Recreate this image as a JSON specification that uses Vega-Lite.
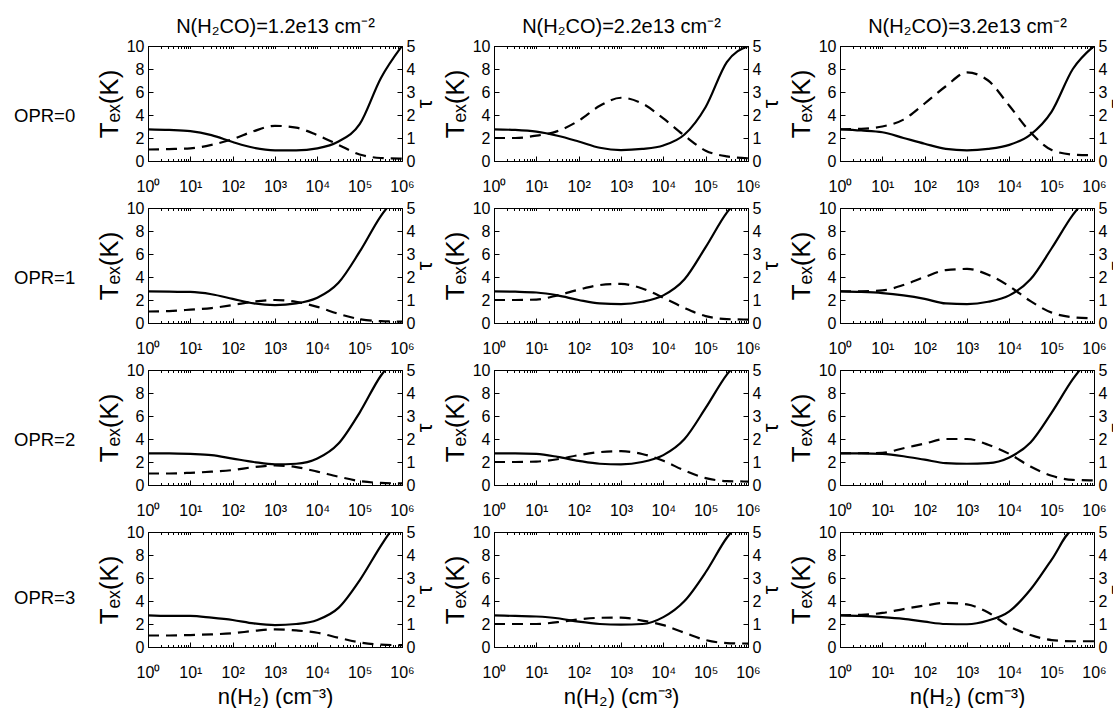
{
"$schema": "https://vega.github.io/schema/vega-lite/v6.json",
"background": "white",
"padding": {"left": 13, "top": 16, "right": 0, "bottom": 0},
"config": {
 "font": "Liberation Sans",
 "view": {"stroke": "black", "strokeWidth": 1},
 "axis": {"grid": false, "domainColor": "black", "tickColor": "black", "labelColor": "black", "titleColor": "black", "labelFontSize": 16, "titleFontSize": 22, "titleFontWeight": "normal", "labelFont": "Liberation Sans", "titleFont": "Liberation Sans", "labelOverlap": false, "labelFlush": false},
 "axisLeft": {"titleFontSize": 26},
 "axisRight": {"titleFontSize": 22, "titleBaseline": "top", "titlePadding": 0},
 "axisTop": {"titleFontSize": 20, "titlePadding": 9},
 "title": {"fontSize": 18.5, "fontWeight": "normal", "color": "black", "font": "Liberation Sans"},
 "line": {"color": "black", "strokeWidth": 2.2, "interpolate": "monotone"}
},
"data": {"values": [
{"o":0,"c":1.2,"n":1,"tex":2.75,"tau":0.5},{"o":0,"c":1.2,"n":3.162,"tex":2.7,"tau":0.52},{"o":0,"c":1.2,"n":10,"tex":2.6,"tau":0.55},{"o":0,"c":1.2,"n":31.62,"tex":2.25,"tau":0.7},{"o":0,"c":1.2,"n":100,"tex":1.65,"tau":0.95},{"o":0,"c":1.2,"n":316.2,"tex":1.15,"tau":1.3},{"o":0,"c":1.2,"n":1000,"tex":0.93,"tau":1.53},{"o":0,"c":1.2,"n":3162,"tex":0.92,"tau":1.45},{"o":0,"c":1.2,"n":10000,"tex":1.1,"tau":1.12},{"o":0,"c":1.2,"n":31623,"tex":1.7,"tau":0.7},{"o":0,"c":1.2,"n":100000,"tex":3.2,"tau":0.28},{"o":0,"c":1.2,"n":316228,"tex":7.2,"tau":0.13},{"o":0,"c":1.2,"n":1000000,"tex":10,"tau":0.1},
{"o":0,"c":2.2,"n":1,"tex":2.75,"tau":1.0},{"o":0,"c":2.2,"n":3.162,"tex":2.7,"tau":1.0},{"o":0,"c":2.2,"n":10,"tex":2.55,"tau":1.1},{"o":0,"c":2.2,"n":31.62,"tex":2.2,"tau":1.3},{"o":0,"c":2.2,"n":100,"tex":1.7,"tau":1.75},{"o":0,"c":2.2,"n":316.2,"tex":1.15,"tau":2.4},{"o":0,"c":2.2,"n":1000,"tex":0.95,"tau":2.75},{"o":0,"c":2.2,"n":3162,"tex":1.05,"tau":2.5},{"o":0,"c":2.2,"n":10000,"tex":1.35,"tau":1.85},{"o":0,"c":2.2,"n":31623,"tex":2.3,"tau":1.1},{"o":0,"c":2.2,"n":100000,"tex":4.7,"tau":0.45},{"o":0,"c":2.2,"n":316228,"tex":8.6,"tau":0.2},{"o":0,"c":2.2,"n":1000000,"tex":10,"tau":0.12},
{"o":0,"c":3.2,"n":1,"tex":2.75,"tau":1.38},{"o":0,"c":3.2,"n":3.162,"tex":2.65,"tau":1.4},{"o":0,"c":3.2,"n":10,"tex":2.5,"tau":1.5},{"o":0,"c":3.2,"n":31.62,"tex":2.0,"tau":1.8},{"o":0,"c":3.2,"n":100,"tex":1.5,"tau":2.5},{"o":0,"c":3.2,"n":316.2,"tex":1.05,"tau":3.25},{"o":0,"c":3.2,"n":1000,"tex":0.93,"tau":3.85},{"o":0,"c":3.2,"n":3162,"tex":1.05,"tau":3.5},{"o":0,"c":3.2,"n":10000,"tex":1.4,"tau":2.4},{"o":0,"c":3.2,"n":31623,"tex":2.3,"tau":1.25},{"o":0,"c":3.2,"n":100000,"tex":4.3,"tau":0.48},{"o":0,"c":3.2,"n":316228,"tex":8.0,"tau":0.28},{"o":0,"c":3.2,"n":1000000,"tex":10,"tau":0.25},
{"o":1,"c":1.2,"n":1,"tex":2.75,"tau":0.5},{"o":1,"c":1.2,"n":3.162,"tex":2.72,"tau":0.52},{"o":1,"c":1.2,"n":10,"tex":2.7,"tau":0.58},{"o":1,"c":1.2,"n":31.62,"tex":2.5,"tau":0.65},{"o":1,"c":1.2,"n":100,"tex":2.1,"tau":0.78},{"o":1,"c":1.2,"n":316.2,"tex":1.7,"tau":0.93},{"o":1,"c":1.2,"n":1000,"tex":1.55,"tau":1.0},{"o":1,"c":1.2,"n":3162,"tex":1.7,"tau":0.92},{"o":1,"c":1.2,"n":10000,"tex":2.2,"tau":0.7},{"o":1,"c":1.2,"n":31623,"tex":3.5,"tau":0.4},{"o":1,"c":1.2,"n":100000,"tex":6.2,"tau":0.17},{"o":1,"c":1.2,"n":316228,"tex":9.3,"tau":0.08},{"o":1,"c":1.2,"n":1000000,"tex":11.5,"tau":0.06},
{"o":1,"c":2.2,"n":1,"tex":2.75,"tau":1.0},{"o":1,"c":2.2,"n":3.162,"tex":2.72,"tau":1.0},{"o":1,"c":2.2,"n":10,"tex":2.65,"tau":1.02},{"o":1,"c":2.2,"n":31.62,"tex":2.4,"tau":1.2},{"o":1,"c":2.2,"n":100,"tex":2.0,"tau":1.45},{"o":1,"c":2.2,"n":316.2,"tex":1.7,"tau":1.65},{"o":1,"c":2.2,"n":1000,"tex":1.65,"tau":1.7},{"o":1,"c":2.2,"n":3162,"tex":1.85,"tau":1.5},{"o":1,"c":2.2,"n":10000,"tex":2.4,"tau":1.1},{"o":1,"c":2.2,"n":31623,"tex":3.8,"tau":0.65},{"o":1,"c":2.2,"n":100000,"tex":6.6,"tau":0.3},{"o":1,"c":2.2,"n":316228,"tex":9.6,"tau":0.17},{"o":1,"c":2.2,"n":1000000,"tex":11.5,"tau":0.15},
{"o":1,"c":3.2,"n":1,"tex":2.75,"tau":1.38},{"o":1,"c":3.2,"n":3.162,"tex":2.7,"tau":1.38},{"o":1,"c":3.2,"n":10,"tex":2.6,"tau":1.42},{"o":1,"c":3.2,"n":31.62,"tex":2.4,"tau":1.65},{"o":1,"c":3.2,"n":100,"tex":2.1,"tau":2.0},{"o":1,"c":3.2,"n":316.2,"tex":1.7,"tau":2.3},{"o":1,"c":3.2,"n":1000,"tex":1.65,"tau":2.35},{"o":1,"c":3.2,"n":3162,"tex":1.85,"tau":2.1},{"o":1,"c":3.2,"n":10000,"tex":2.4,"tau":1.6},{"o":1,"c":3.2,"n":31623,"tex":3.8,"tau":0.95},{"o":1,"c":3.2,"n":100000,"tex":6.5,"tau":0.45},{"o":1,"c":3.2,"n":316228,"tex":9.4,"tau":0.25},{"o":1,"c":3.2,"n":1000000,"tex":11.5,"tau":0.2},
{"o":2,"c":1.2,"n":1,"tex":2.75,"tau":0.5},{"o":2,"c":1.2,"n":3.162,"tex":2.75,"tau":0.5},{"o":2,"c":1.2,"n":10,"tex":2.7,"tau":0.53},{"o":2,"c":1.2,"n":31.62,"tex":2.6,"tau":0.58},{"o":2,"c":1.2,"n":100,"tex":2.3,"tau":0.65},{"o":2,"c":1.2,"n":316.2,"tex":2.0,"tau":0.78},{"o":2,"c":1.2,"n":1000,"tex":1.8,"tau":0.85},{"o":2,"c":1.2,"n":3162,"tex":1.85,"tau":0.78},{"o":2,"c":1.2,"n":10000,"tex":2.3,"tau":0.58},{"o":2,"c":1.2,"n":31623,"tex":3.6,"tau":0.36},{"o":2,"c":1.2,"n":100000,"tex":6.3,"tau":0.17},{"o":2,"c":1.2,"n":316228,"tex":9.5,"tau":0.09},{"o":2,"c":1.2,"n":1000000,"tex":11.5,"tau":0.07},
{"o":2,"c":2.2,"n":1,"tex":2.75,"tau":1.0},{"o":2,"c":2.2,"n":3.162,"tex":2.75,"tau":1.0},{"o":2,"c":2.2,"n":10,"tex":2.7,"tau":1.02},{"o":2,"c":2.2,"n":31.62,"tex":2.45,"tau":1.12},{"o":2,"c":2.2,"n":100,"tex":2.1,"tau":1.3},{"o":2,"c":2.2,"n":316.2,"tex":1.85,"tau":1.43},{"o":2,"c":2.2,"n":1000,"tex":1.8,"tau":1.47},{"o":2,"c":2.2,"n":3162,"tex":2.0,"tau":1.35},{"o":2,"c":2.2,"n":10000,"tex":2.6,"tau":1.05},{"o":2,"c":2.2,"n":31623,"tex":4.0,"tau":0.63},{"o":2,"c":2.2,"n":100000,"tex":6.7,"tau":0.3},{"o":2,"c":2.2,"n":316228,"tex":9.6,"tau":0.17},{"o":2,"c":2.2,"n":1000000,"tex":11.5,"tau":0.15},
{"o":2,"c":3.2,"n":1,"tex":2.75,"tau":1.38},{"o":2,"c":3.2,"n":3.162,"tex":2.75,"tau":1.38},{"o":2,"c":3.2,"n":10,"tex":2.7,"tau":1.4},{"o":2,"c":3.2,"n":31.62,"tex":2.5,"tau":1.6},{"o":2,"c":3.2,"n":100,"tex":2.2,"tau":1.8},{"o":2,"c":3.2,"n":316.2,"tex":1.9,"tau":2.0},{"o":2,"c":3.2,"n":1000,"tex":1.85,"tau":2.0},{"o":2,"c":3.2,"n":3162,"tex":1.9,"tau":1.75},{"o":2,"c":3.2,"n":10000,"tex":2.4,"tau":1.35},{"o":2,"c":3.2,"n":31623,"tex":3.7,"tau":0.8},{"o":2,"c":3.2,"n":100000,"tex":6.3,"tau":0.4},{"o":2,"c":3.2,"n":316228,"tex":9.2,"tau":0.22},{"o":2,"c":3.2,"n":1000000,"tex":11.5,"tau":0.2},
{"o":3,"c":1.2,"n":1,"tex":2.75,"tau":0.5},{"o":3,"c":1.2,"n":3.162,"tex":2.7,"tau":0.5},{"o":3,"c":1.2,"n":10,"tex":2.7,"tau":0.52},{"o":3,"c":1.2,"n":31.62,"tex":2.55,"tau":0.55},{"o":3,"c":1.2,"n":100,"tex":2.35,"tau":0.6},{"o":3,"c":1.2,"n":316.2,"tex":2.05,"tau":0.7},{"o":3,"c":1.2,"n":1000,"tex":1.9,"tau":0.77},{"o":3,"c":1.2,"n":3162,"tex":2.0,"tau":0.72},{"o":3,"c":1.2,"n":10000,"tex":2.35,"tau":0.62},{"o":3,"c":1.2,"n":31623,"tex":3.4,"tau":0.4},{"o":3,"c":1.2,"n":100000,"tex":5.8,"tau":0.2},{"o":3,"c":1.2,"n":316228,"tex":8.8,"tau":0.1},{"o":3,"c":1.2,"n":1000000,"tex":11.5,"tau":0.08},
{"o":3,"c":2.2,"n":1,"tex":2.75,"tau":1.0},{"o":3,"c":2.2,"n":3.162,"tex":2.7,"tau":1.0},{"o":3,"c":2.2,"n":10,"tex":2.65,"tau":1.0},{"o":3,"c":2.2,"n":31.62,"tex":2.5,"tau":1.08},{"o":3,"c":2.2,"n":100,"tex":2.2,"tau":1.2},{"o":3,"c":2.2,"n":316.2,"tex":2.0,"tau":1.27},{"o":3,"c":2.2,"n":1000,"tex":1.95,"tau":1.28},{"o":3,"c":2.2,"n":3162,"tex":2.0,"tau":1.15},{"o":3,"c":2.2,"n":10000,"tex":2.6,"tau":0.95},{"o":3,"c":2.2,"n":31623,"tex":4.0,"tau":0.62},{"o":3,"c":2.2,"n":100000,"tex":6.5,"tau":0.3},{"o":3,"c":2.2,"n":316228,"tex":9.5,"tau":0.17},{"o":3,"c":2.2,"n":1000000,"tex":11.5,"tau":0.15},
{"o":3,"c":3.2,"n":1,"tex":2.75,"tau":1.38},{"o":3,"c":3.2,"n":3.162,"tex":2.7,"tau":1.4},{"o":3,"c":3.2,"n":10,"tex":2.6,"tau":1.48},{"o":3,"c":3.2,"n":31.62,"tex":2.45,"tau":1.65},{"o":3,"c":3.2,"n":100,"tex":2.2,"tau":1.8},{"o":3,"c":3.2,"n":316.2,"tex":2.0,"tau":1.92},{"o":3,"c":3.2,"n":1000,"tex":1.98,"tau":1.85},{"o":3,"c":3.2,"n":3162,"tex":2.3,"tau":1.5},{"o":3,"c":3.2,"n":10000,"tex":3.1,"tau":0.9},{"o":3,"c":3.2,"n":31623,"tex":5.0,"tau":0.52},{"o":3,"c":3.2,"n":100000,"tex":7.6,"tau":0.3},{"o":3,"c":3.2,"n":316228,"tex":10.2,"tau":0.25},{"o":3,"c":3.2,"n":1000000,"tex":10.5,"tau":0.25}
]},
"columns": 3,
"bounds": "flush",
"spacing": {"row": 47, "column": 92},
"concat": [
 {"width": 254, "height": 115, "title": {"text": "OPR=0", "orient": "left", "angle": 0, "align": "left", "baseline": "middle", "anchor": "middle", "frame": "group", "dy": 12, "offset": 21}, "transform": [{"filter": "datum.o == 0 && datum.c == 1.2"}],
  "layer": [
   {"mark": {"type": "line", "clip": true}, "encoding": {
     "x": {"field": "n", "type": "quantitative", "scale": {"type": "log", "domain": [1, 1000000], "nice": false}, "axis": {"values": [1,2,3,4,5,6,7,8,9,10,20,30,40,50,60,70,80,90,100,200,300,400,500,600,700,800,900,1000,2000,3000,4000,5000,6000,7000,8000,9000,10000,20000,30000,40000,50000,60000,70000,80000,90000,100000,200000,300000,400000,500000,600000,700000,800000,900000,1000000], "labelExpr": "abs(log(datum.value)/LN10 - round(log(datum.value)/LN10)) < 0.001 ? '10' + ['⁰','¹','²','³','⁴','⁵','⁶'][round(log(datum.value)/LN10)] : ''", "tickSize": {"condition": {"test": "abs(log(datum.value)/LN10 - round(log(datum.value)/LN10)) < 0.001", "value": -5}, "value": -2.5}, "labelPadding": 22, "title": null}},
     "y": {"field": "tex", "type": "quantitative", "scale": {"domain": [0, 10], "nice": false}, "axis": {"values": [0,2,4,6,8,10], "tickSize": -5, "labelPadding": 9, "title": "Tₑₓ(K)"}}}},
   {"mark": {"type": "line", "strokeDash": [11, 7], "clip": true}, "encoding": {
     "x": {"field": "n", "type": "quantitative", "axis": {"orient": "top", "values": [1,2,3,4,5,6,7,8,9,10,20,30,40,50,60,70,80,90,100,200,300,400,500,600,700,800,900,1000,2000,3000,4000,5000,6000,7000,8000,9000,10000,20000,30000,40000,50000,60000,70000,80000,90000,100000,200000,300000,400000,500000,600000,700000,800000,900000,1000000], "labels": false, "tickSize": -2.5, "title": "N(H₂CO)=1.2e13 cm⁻²"}},
     "y": {"field": "tau", "type": "quantitative", "scale": {"domain": [0, 5], "nice": false}, "axis": {"orient": "right", "values": [0,1,2,3,4,5], "tickSize": -5, "labelPadding": 9, "title": "τ", "titleAngle": 270}}}}
  ],
  "resolve": {"scale": {"y": "independent"}, "axis": {"x": "independent"}}},
 {"width": 254, "height": 115, "transform": [{"filter": "datum.o == 0 && datum.c == 2.2"}],
  "layer": [
   {"mark": {"type": "line", "clip": true}, "encoding": {
     "x": {"field": "n", "type": "quantitative", "scale": {"type": "log", "domain": [1, 1000000], "nice": false}, "axis": {"values": [1,2,3,4,5,6,7,8,9,10,20,30,40,50,60,70,80,90,100,200,300,400,500,600,700,800,900,1000,2000,3000,4000,5000,6000,7000,8000,9000,10000,20000,30000,40000,50000,60000,70000,80000,90000,100000,200000,300000,400000,500000,600000,700000,800000,900000,1000000], "labelExpr": "abs(log(datum.value)/LN10 - round(log(datum.value)/LN10)) < 0.001 ? '10' + ['⁰','¹','²','³','⁴','⁵','⁶'][round(log(datum.value)/LN10)] : ''", "tickSize": {"condition": {"test": "abs(log(datum.value)/LN10 - round(log(datum.value)/LN10)) < 0.001", "value": -5}, "value": -2.5}, "labelPadding": 22, "title": null}},
     "y": {"field": "tex", "type": "quantitative", "scale": {"domain": [0, 10], "nice": false}, "axis": {"values": [0,2,4,6,8,10], "tickSize": -5, "labelPadding": 9, "title": "Tₑₓ(K)"}}}},
   {"mark": {"type": "line", "strokeDash": [11, 7], "clip": true}, "encoding": {
     "x": {"field": "n", "type": "quantitative", "axis": {"orient": "top", "values": [1,2,3,4,5,6,7,8,9,10,20,30,40,50,60,70,80,90,100,200,300,400,500,600,700,800,900,1000,2000,3000,4000,5000,6000,7000,8000,9000,10000,20000,30000,40000,50000,60000,70000,80000,90000,100000,200000,300000,400000,500000,600000,700000,800000,900000,1000000], "labels": false, "tickSize": -2.5, "title": "N(H₂CO)=2.2e13 cm⁻²"}},
     "y": {"field": "tau", "type": "quantitative", "scale": {"domain": [0, 5], "nice": false}, "axis": {"orient": "right", "values": [0,1,2,3,4,5], "tickSize": -5, "labelPadding": 9, "title": "τ", "titleAngle": 270}}}}
  ],
  "resolve": {"scale": {"y": "independent"}, "axis": {"x": "independent"}}},
 {"width": 254, "height": 115, "transform": [{"filter": "datum.o == 0 && datum.c == 3.2"}],
  "layer": [
   {"mark": {"type": "line", "clip": true}, "encoding": {
     "x": {"field": "n", "type": "quantitative", "scale": {"type": "log", "domain": [1, 1000000], "nice": false}, "axis": {"values": [1,2,3,4,5,6,7,8,9,10,20,30,40,50,60,70,80,90,100,200,300,400,500,600,700,800,900,1000,2000,3000,4000,5000,6000,7000,8000,9000,10000,20000,30000,40000,50000,60000,70000,80000,90000,100000,200000,300000,400000,500000,600000,700000,800000,900000,1000000], "labelExpr": "abs(log(datum.value)/LN10 - round(log(datum.value)/LN10)) < 0.001 ? '10' + ['⁰','¹','²','³','⁴','⁵','⁶'][round(log(datum.value)/LN10)] : ''", "tickSize": {"condition": {"test": "abs(log(datum.value)/LN10 - round(log(datum.value)/LN10)) < 0.001", "value": -5}, "value": -2.5}, "labelPadding": 22, "title": null}},
     "y": {"field": "tex", "type": "quantitative", "scale": {"domain": [0, 10], "nice": false}, "axis": {"values": [0,2,4,6,8,10], "tickSize": -5, "labelPadding": 9, "title": "Tₑₓ(K)"}}}},
   {"mark": {"type": "line", "strokeDash": [11, 7], "clip": true}, "encoding": {
     "x": {"field": "n", "type": "quantitative", "axis": {"orient": "top", "values": [1,2,3,4,5,6,7,8,9,10,20,30,40,50,60,70,80,90,100,200,300,400,500,600,700,800,900,1000,2000,3000,4000,5000,6000,7000,8000,9000,10000,20000,30000,40000,50000,60000,70000,80000,90000,100000,200000,300000,400000,500000,600000,700000,800000,900000,1000000], "labels": false, "tickSize": -2.5, "title": "N(H₂CO)=3.2e13 cm⁻²"}},
     "y": {"field": "tau", "type": "quantitative", "scale": {"domain": [0, 5], "nice": false}, "axis": {"orient": "right", "values": [0,1,2,3,4,5], "tickSize": -5, "labelPadding": 9, "title": "τ", "titleAngle": 270}}}}
  ],
  "resolve": {"scale": {"y": "independent"}, "axis": {"x": "independent"}}},
 {"width": 254, "height": 115, "title": {"text": "OPR=1", "orient": "left", "angle": 0, "align": "left", "baseline": "middle", "anchor": "middle", "frame": "group", "dy": 12, "offset": 21}, "transform": [{"filter": "datum.o == 1 && datum.c == 1.2"}],
  "layer": [
   {"mark": {"type": "line", "clip": true}, "encoding": {
     "x": {"field": "n", "type": "quantitative", "scale": {"type": "log", "domain": [1, 1000000], "nice": false}, "axis": {"values": [1,2,3,4,5,6,7,8,9,10,20,30,40,50,60,70,80,90,100,200,300,400,500,600,700,800,900,1000,2000,3000,4000,5000,6000,7000,8000,9000,10000,20000,30000,40000,50000,60000,70000,80000,90000,100000,200000,300000,400000,500000,600000,700000,800000,900000,1000000], "labelExpr": "abs(log(datum.value)/LN10 - round(log(datum.value)/LN10)) < 0.001 ? '10' + ['⁰','¹','²','³','⁴','⁵','⁶'][round(log(datum.value)/LN10)] : ''", "tickSize": {"condition": {"test": "abs(log(datum.value)/LN10 - round(log(datum.value)/LN10)) < 0.001", "value": -5}, "value": -2.5}, "labelPadding": 22, "title": null}},
     "y": {"field": "tex", "type": "quantitative", "scale": {"domain": [0, 10], "nice": false}, "axis": {"values": [0,2,4,6,8,10], "tickSize": -5, "labelPadding": 9, "title": "Tₑₓ(K)"}}}},
   {"mark": {"type": "line", "strokeDash": [11, 7], "clip": true}, "encoding": {
     "x": {"field": "n", "type": "quantitative", "axis": {"orient": "top", "values": [1,2,3,4,5,6,7,8,9,10,20,30,40,50,60,70,80,90,100,200,300,400,500,600,700,800,900,1000,2000,3000,4000,5000,6000,7000,8000,9000,10000,20000,30000,40000,50000,60000,70000,80000,90000,100000,200000,300000,400000,500000,600000,700000,800000,900000,1000000], "labels": false, "tickSize": -2.5, "title": null}},
     "y": {"field": "tau", "type": "quantitative", "scale": {"domain": [0, 5], "nice": false}, "axis": {"orient": "right", "values": [0,1,2,3,4,5], "tickSize": -5, "labelPadding": 9, "title": "τ", "titleAngle": 270}}}}
  ],
  "resolve": {"scale": {"y": "independent"}, "axis": {"x": "independent"}}},
 {"width": 254, "height": 115, "transform": [{"filter": "datum.o == 1 && datum.c == 2.2"}],
  "layer": [
   {"mark": {"type": "line", "clip": true}, "encoding": {
     "x": {"field": "n", "type": "quantitative", "scale": {"type": "log", "domain": [1, 1000000], "nice": false}, "axis": {"values": [1,2,3,4,5,6,7,8,9,10,20,30,40,50,60,70,80,90,100,200,300,400,500,600,700,800,900,1000,2000,3000,4000,5000,6000,7000,8000,9000,10000,20000,30000,40000,50000,60000,70000,80000,90000,100000,200000,300000,400000,500000,600000,700000,800000,900000,1000000], "labelExpr": "abs(log(datum.value)/LN10 - round(log(datum.value)/LN10)) < 0.001 ? '10' + ['⁰','¹','²','³','⁴','⁵','⁶'][round(log(datum.value)/LN10)] : ''", "tickSize": {"condition": {"test": "abs(log(datum.value)/LN10 - round(log(datum.value)/LN10)) < 0.001", "value": -5}, "value": -2.5}, "labelPadding": 22, "title": null}},
     "y": {"field": "tex", "type": "quantitative", "scale": {"domain": [0, 10], "nice": false}, "axis": {"values": [0,2,4,6,8,10], "tickSize": -5, "labelPadding": 9, "title": "Tₑₓ(K)"}}}},
   {"mark": {"type": "line", "strokeDash": [11, 7], "clip": true}, "encoding": {
     "x": {"field": "n", "type": "quantitative", "axis": {"orient": "top", "values": [1,2,3,4,5,6,7,8,9,10,20,30,40,50,60,70,80,90,100,200,300,400,500,600,700,800,900,1000,2000,3000,4000,5000,6000,7000,8000,9000,10000,20000,30000,40000,50000,60000,70000,80000,90000,100000,200000,300000,400000,500000,600000,700000,800000,900000,1000000], "labels": false, "tickSize": -2.5, "title": null}},
     "y": {"field": "tau", "type": "quantitative", "scale": {"domain": [0, 5], "nice": false}, "axis": {"orient": "right", "values": [0,1,2,3,4,5], "tickSize": -5, "labelPadding": 9, "title": "τ", "titleAngle": 270}}}}
  ],
  "resolve": {"scale": {"y": "independent"}, "axis": {"x": "independent"}}},
 {"width": 254, "height": 115, "transform": [{"filter": "datum.o == 1 && datum.c == 3.2"}],
  "layer": [
   {"mark": {"type": "line", "clip": true}, "encoding": {
     "x": {"field": "n", "type": "quantitative", "scale": {"type": "log", "domain": [1, 1000000], "nice": false}, "axis": {"values": [1,2,3,4,5,6,7,8,9,10,20,30,40,50,60,70,80,90,100,200,300,400,500,600,700,800,900,1000,2000,3000,4000,5000,6000,7000,8000,9000,10000,20000,30000,40000,50000,60000,70000,80000,90000,100000,200000,300000,400000,500000,600000,700000,800000,900000,1000000], "labelExpr": "abs(log(datum.value)/LN10 - round(log(datum.value)/LN10)) < 0.001 ? '10' + ['⁰','¹','²','³','⁴','⁵','⁶'][round(log(datum.value)/LN10)] : ''", "tickSize": {"condition": {"test": "abs(log(datum.value)/LN10 - round(log(datum.value)/LN10)) < 0.001", "value": -5}, "value": -2.5}, "labelPadding": 22, "title": null}},
     "y": {"field": "tex", "type": "quantitative", "scale": {"domain": [0, 10], "nice": false}, "axis": {"values": [0,2,4,6,8,10], "tickSize": -5, "labelPadding": 9, "title": "Tₑₓ(K)"}}}},
   {"mark": {"type": "line", "strokeDash": [11, 7], "clip": true}, "encoding": {
     "x": {"field": "n", "type": "quantitative", "axis": {"orient": "top", "values": [1,2,3,4,5,6,7,8,9,10,20,30,40,50,60,70,80,90,100,200,300,400,500,600,700,800,900,1000,2000,3000,4000,5000,6000,7000,8000,9000,10000,20000,30000,40000,50000,60000,70000,80000,90000,100000,200000,300000,400000,500000,600000,700000,800000,900000,1000000], "labels": false, "tickSize": -2.5, "title": null}},
     "y": {"field": "tau", "type": "quantitative", "scale": {"domain": [0, 5], "nice": false}, "axis": {"orient": "right", "values": [0,1,2,3,4,5], "tickSize": -5, "labelPadding": 9, "title": "τ", "titleAngle": 270}}}}
  ],
  "resolve": {"scale": {"y": "independent"}, "axis": {"x": "independent"}}},
 {"width": 254, "height": 115, "title": {"text": "OPR=2", "orient": "left", "angle": 0, "align": "left", "baseline": "middle", "anchor": "middle", "frame": "group", "dy": 12, "offset": 21}, "transform": [{"filter": "datum.o == 2 && datum.c == 1.2"}],
  "layer": [
   {"mark": {"type": "line", "clip": true}, "encoding": {
     "x": {"field": "n", "type": "quantitative", "scale": {"type": "log", "domain": [1, 1000000], "nice": false}, "axis": {"values": [1,2,3,4,5,6,7,8,9,10,20,30,40,50,60,70,80,90,100,200,300,400,500,600,700,800,900,1000,2000,3000,4000,5000,6000,7000,8000,9000,10000,20000,30000,40000,50000,60000,70000,80000,90000,100000,200000,300000,400000,500000,600000,700000,800000,900000,1000000], "labelExpr": "abs(log(datum.value)/LN10 - round(log(datum.value)/LN10)) < 0.001 ? '10' + ['⁰','¹','²','³','⁴','⁵','⁶'][round(log(datum.value)/LN10)] : ''", "tickSize": {"condition": {"test": "abs(log(datum.value)/LN10 - round(log(datum.value)/LN10)) < 0.001", "value": -5}, "value": -2.5}, "labelPadding": 22, "title": null}},
     "y": {"field": "tex", "type": "quantitative", "scale": {"domain": [0, 10], "nice": false}, "axis": {"values": [0,2,4,6,8,10], "tickSize": -5, "labelPadding": 9, "title": "Tₑₓ(K)"}}}},
   {"mark": {"type": "line", "strokeDash": [11, 7], "clip": true}, "encoding": {
     "x": {"field": "n", "type": "quantitative", "axis": {"orient": "top", "values": [1,2,3,4,5,6,7,8,9,10,20,30,40,50,60,70,80,90,100,200,300,400,500,600,700,800,900,1000,2000,3000,4000,5000,6000,7000,8000,9000,10000,20000,30000,40000,50000,60000,70000,80000,90000,100000,200000,300000,400000,500000,600000,700000,800000,900000,1000000], "labels": false, "tickSize": -2.5, "title": null}},
     "y": {"field": "tau", "type": "quantitative", "scale": {"domain": [0, 5], "nice": false}, "axis": {"orient": "right", "values": [0,1,2,3,4,5], "tickSize": -5, "labelPadding": 9, "title": "τ", "titleAngle": 270}}}}
  ],
  "resolve": {"scale": {"y": "independent"}, "axis": {"x": "independent"}}},
 {"width": 254, "height": 115, "transform": [{"filter": "datum.o == 2 && datum.c == 2.2"}],
  "layer": [
   {"mark": {"type": "line", "clip": true}, "encoding": {
     "x": {"field": "n", "type": "quantitative", "scale": {"type": "log", "domain": [1, 1000000], "nice": false}, "axis": {"values": [1,2,3,4,5,6,7,8,9,10,20,30,40,50,60,70,80,90,100,200,300,400,500,600,700,800,900,1000,2000,3000,4000,5000,6000,7000,8000,9000,10000,20000,30000,40000,50000,60000,70000,80000,90000,100000,200000,300000,400000,500000,600000,700000,800000,900000,1000000], "labelExpr": "abs(log(datum.value)/LN10 - round(log(datum.value)/LN10)) < 0.001 ? '10' + ['⁰','¹','²','³','⁴','⁵','⁶'][round(log(datum.value)/LN10)] : ''", "tickSize": {"condition": {"test": "abs(log(datum.value)/LN10 - round(log(datum.value)/LN10)) < 0.001", "value": -5}, "value": -2.5}, "labelPadding": 22, "title": null}},
     "y": {"field": "tex", "type": "quantitative", "scale": {"domain": [0, 10], "nice": false}, "axis": {"values": [0,2,4,6,8,10], "tickSize": -5, "labelPadding": 9, "title": "Tₑₓ(K)"}}}},
   {"mark": {"type": "line", "strokeDash": [11, 7], "clip": true}, "encoding": {
     "x": {"field": "n", "type": "quantitative", "axis": {"orient": "top", "values": [1,2,3,4,5,6,7,8,9,10,20,30,40,50,60,70,80,90,100,200,300,400,500,600,700,800,900,1000,2000,3000,4000,5000,6000,7000,8000,9000,10000,20000,30000,40000,50000,60000,70000,80000,90000,100000,200000,300000,400000,500000,600000,700000,800000,900000,1000000], "labels": false, "tickSize": -2.5, "title": null}},
     "y": {"field": "tau", "type": "quantitative", "scale": {"domain": [0, 5], "nice": false}, "axis": {"orient": "right", "values": [0,1,2,3,4,5], "tickSize": -5, "labelPadding": 9, "title": "τ", "titleAngle": 270}}}}
  ],
  "resolve": {"scale": {"y": "independent"}, "axis": {"x": "independent"}}},
 {"width": 254, "height": 115, "transform": [{"filter": "datum.o == 2 && datum.c == 3.2"}],
  "layer": [
   {"mark": {"type": "line", "clip": true}, "encoding": {
     "x": {"field": "n", "type": "quantitative", "scale": {"type": "log", "domain": [1, 1000000], "nice": false}, "axis": {"values": [1,2,3,4,5,6,7,8,9,10,20,30,40,50,60,70,80,90,100,200,300,400,500,600,700,800,900,1000,2000,3000,4000,5000,6000,7000,8000,9000,10000,20000,30000,40000,50000,60000,70000,80000,90000,100000,200000,300000,400000,500000,600000,700000,800000,900000,1000000], "labelExpr": "abs(log(datum.value)/LN10 - round(log(datum.value)/LN10)) < 0.001 ? '10' + ['⁰','¹','²','³','⁴','⁵','⁶'][round(log(datum.value)/LN10)] : ''", "tickSize": {"condition": {"test": "abs(log(datum.value)/LN10 - round(log(datum.value)/LN10)) < 0.001", "value": -5}, "value": -2.5}, "labelPadding": 22, "title": null}},
     "y": {"field": "tex", "type": "quantitative", "scale": {"domain": [0, 10], "nice": false}, "axis": {"values": [0,2,4,6,8,10], "tickSize": -5, "labelPadding": 9, "title": "Tₑₓ(K)"}}}},
   {"mark": {"type": "line", "strokeDash": [11, 7], "clip": true}, "encoding": {
     "x": {"field": "n", "type": "quantitative", "axis": {"orient": "top", "values": [1,2,3,4,5,6,7,8,9,10,20,30,40,50,60,70,80,90,100,200,300,400,500,600,700,800,900,1000,2000,3000,4000,5000,6000,7000,8000,9000,10000,20000,30000,40000,50000,60000,70000,80000,90000,100000,200000,300000,400000,500000,600000,700000,800000,900000,1000000], "labels": false, "tickSize": -2.5, "title": null}},
     "y": {"field": "tau", "type": "quantitative", "scale": {"domain": [0, 5], "nice": false}, "axis": {"orient": "right", "values": [0,1,2,3,4,5], "tickSize": -5, "labelPadding": 9, "title": "τ", "titleAngle": 270}}}}
  ],
  "resolve": {"scale": {"y": "independent"}, "axis": {"x": "independent"}}},
 {"width": 254, "height": 115, "title": {"text": "OPR=3", "orient": "left", "angle": 0, "align": "left", "baseline": "middle", "anchor": "middle", "frame": "group", "dy": 8, "offset": 21}, "transform": [{"filter": "datum.o == 3 && datum.c == 1.2"}],
  "layer": [
   {"mark": {"type": "line", "clip": true}, "encoding": {
     "x": {"field": "n", "type": "quantitative", "scale": {"type": "log", "domain": [1, 1000000], "nice": false}, "axis": {"values": [1,2,3,4,5,6,7,8,9,10,20,30,40,50,60,70,80,90,100,200,300,400,500,600,700,800,900,1000,2000,3000,4000,5000,6000,7000,8000,9000,10000,20000,30000,40000,50000,60000,70000,80000,90000,100000,200000,300000,400000,500000,600000,700000,800000,900000,1000000], "labelExpr": "abs(log(datum.value)/LN10 - round(log(datum.value)/LN10)) < 0.001 ? '10' + ['⁰','¹','²','³','⁴','⁵','⁶'][round(log(datum.value)/LN10)] : ''", "tickSize": {"condition": {"test": "abs(log(datum.value)/LN10 - round(log(datum.value)/LN10)) < 0.001", "value": -5}, "value": -2.5}, "labelPadding": 22, "title": "n(H₂) (cm⁻³)"}},
     "y": {"field": "tex", "type": "quantitative", "scale": {"domain": [0, 10], "nice": false}, "axis": {"values": [0,2,4,6,8,10], "tickSize": -5, "labelPadding": 9, "title": "Tₑₓ(K)"}}}},
   {"mark": {"type": "line", "strokeDash": [11, 7], "clip": true}, "encoding": {
     "x": {"field": "n", "type": "quantitative", "axis": {"orient": "top", "values": [1,2,3,4,5,6,7,8,9,10,20,30,40,50,60,70,80,90,100,200,300,400,500,600,700,800,900,1000,2000,3000,4000,5000,6000,7000,8000,9000,10000,20000,30000,40000,50000,60000,70000,80000,90000,100000,200000,300000,400000,500000,600000,700000,800000,900000,1000000], "labels": false, "tickSize": -2.5, "title": null}},
     "y": {"field": "tau", "type": "quantitative", "scale": {"domain": [0, 5], "nice": false}, "axis": {"orient": "right", "values": [0,1,2,3,4,5], "tickSize": -5, "labelPadding": 9, "title": "τ", "titleAngle": 270}}}}
  ],
  "resolve": {"scale": {"y": "independent"}, "axis": {"x": "independent"}}},
 {"width": 254, "height": 115, "transform": [{"filter": "datum.o == 3 && datum.c == 2.2"}],
  "layer": [
   {"mark": {"type": "line", "clip": true}, "encoding": {
     "x": {"field": "n", "type": "quantitative", "scale": {"type": "log", "domain": [1, 1000000], "nice": false}, "axis": {"values": [1,2,3,4,5,6,7,8,9,10,20,30,40,50,60,70,80,90,100,200,300,400,500,600,700,800,900,1000,2000,3000,4000,5000,6000,7000,8000,9000,10000,20000,30000,40000,50000,60000,70000,80000,90000,100000,200000,300000,400000,500000,600000,700000,800000,900000,1000000], "labelExpr": "abs(log(datum.value)/LN10 - round(log(datum.value)/LN10)) < 0.001 ? '10' + ['⁰','¹','²','³','⁴','⁵','⁶'][round(log(datum.value)/LN10)] : ''", "tickSize": {"condition": {"test": "abs(log(datum.value)/LN10 - round(log(datum.value)/LN10)) < 0.001", "value": -5}, "value": -2.5}, "labelPadding": 22, "title": "n(H₂) (cm⁻³)"}},
     "y": {"field": "tex", "type": "quantitative", "scale": {"domain": [0, 10], "nice": false}, "axis": {"values": [0,2,4,6,8,10], "tickSize": -5, "labelPadding": 9, "title": "Tₑₓ(K)"}}}},
   {"mark": {"type": "line", "strokeDash": [11, 7], "clip": true}, "encoding": {
     "x": {"field": "n", "type": "quantitative", "axis": {"orient": "top", "values": [1,2,3,4,5,6,7,8,9,10,20,30,40,50,60,70,80,90,100,200,300,400,500,600,700,800,900,1000,2000,3000,4000,5000,6000,7000,8000,9000,10000,20000,30000,40000,50000,60000,70000,80000,90000,100000,200000,300000,400000,500000,600000,700000,800000,900000,1000000], "labels": false, "tickSize": -2.5, "title": null}},
     "y": {"field": "tau", "type": "quantitative", "scale": {"domain": [0, 5], "nice": false}, "axis": {"orient": "right", "values": [0,1,2,3,4,5], "tickSize": -5, "labelPadding": 9, "title": "τ", "titleAngle": 270}}}}
  ],
  "resolve": {"scale": {"y": "independent"}, "axis": {"x": "independent"}}},
 {"width": 254, "height": 115, "transform": [{"filter": "datum.o == 3 && datum.c == 3.2"}],
  "layer": [
   {"mark": {"type": "line", "clip": true}, "encoding": {
     "x": {"field": "n", "type": "quantitative", "scale": {"type": "log", "domain": [1, 1000000], "nice": false}, "axis": {"values": [1,2,3,4,5,6,7,8,9,10,20,30,40,50,60,70,80,90,100,200,300,400,500,600,700,800,900,1000,2000,3000,4000,5000,6000,7000,8000,9000,10000,20000,30000,40000,50000,60000,70000,80000,90000,100000,200000,300000,400000,500000,600000,700000,800000,900000,1000000], "labelExpr": "abs(log(datum.value)/LN10 - round(log(datum.value)/LN10)) < 0.001 ? '10' + ['⁰','¹','²','³','⁴','⁵','⁶'][round(log(datum.value)/LN10)] : ''", "tickSize": {"condition": {"test": "abs(log(datum.value)/LN10 - round(log(datum.value)/LN10)) < 0.001", "value": -5}, "value": -2.5}, "labelPadding": 22, "title": "n(H₂) (cm⁻³)"}},
     "y": {"field": "tex", "type": "quantitative", "scale": {"domain": [0, 10], "nice": false}, "axis": {"values": [0,2,4,6,8,10], "tickSize": -5, "labelPadding": 9, "title": "Tₑₓ(K)"}}}},
   {"mark": {"type": "line", "strokeDash": [11, 7], "clip": true}, "encoding": {
     "x": {"field": "n", "type": "quantitative", "axis": {"orient": "top", "values": [1,2,3,4,5,6,7,8,9,10,20,30,40,50,60,70,80,90,100,200,300,400,500,600,700,800,900,1000,2000,3000,4000,5000,6000,7000,8000,9000,10000,20000,30000,40000,50000,60000,70000,80000,90000,100000,200000,300000,400000,500000,600000,700000,800000,900000,1000000], "labels": false, "tickSize": -2.5, "title": null}},
     "y": {"field": "tau", "type": "quantitative", "scale": {"domain": [0, 5], "nice": false}, "axis": {"orient": "right", "values": [0,1,2,3,4,5], "tickSize": -5, "labelPadding": 9, "title": "τ", "titleAngle": 270}}}}
  ],
  "resolve": {"scale": {"y": "independent"}, "axis": {"x": "independent"}}}
]
}
